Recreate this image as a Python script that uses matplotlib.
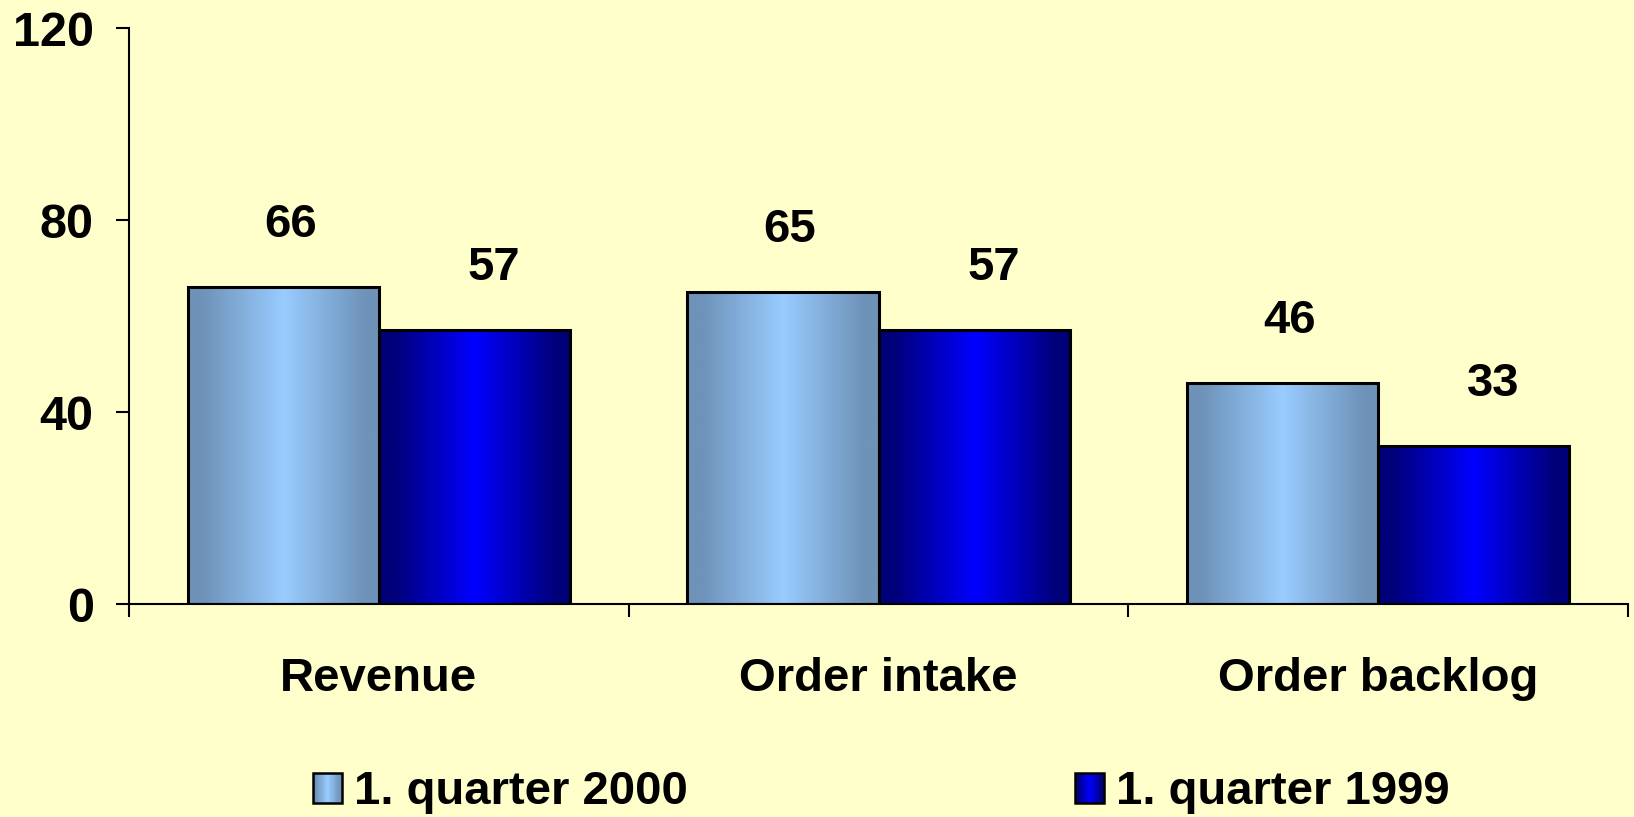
import numpy as np
import matplotlib
matplotlib.use("Agg")
import matplotlib.pyplot as plt
import matplotlib.patches as mpatches
from matplotlib.legend_handler import HandlerBase
from matplotlib.colors import to_rgb

categories = ["Revenue", "Order intake", "Order backlog"]
series_names = ["1. quarter 2000", "1. quarter 1999"]
q2000 = [66, 65, 46]
q1999 = [57, 57, 33]
yticks = [0, 40, 80, 120]

BG = "#FFFFCC"
light_edge, light_center = "#6E92B8", "#99CCFF"
dark_edge, dark_center = "#000078", "#0000FF"
FONT = "Liberation Sans"


def gradient_row(edge, center, n=256):
    u = (np.arange(n) + 0.5) / n
    t = np.clip(np.abs(2 * u - 1) / 0.85, 0, 1)
    e = np.array(to_rgb(edge))
    c = np.array(to_rgb(center))
    cols = c[None, :] * (1 - t[:, None]) + e[None, :] * t[:, None]
    return cols[None, :, :]


class GradientHandler(HandlerBase):
    def __init__(self, edge, center):
        super().__init__()
        self.edge = edge
        self.center = center

    def create_artists(self, legend, orig_handle, xdescent, ydescent,
                       width, height, fontsize, trans):
        n = 24
        cols = gradient_row(self.edge, self.center, n)[0]
        arts = []
        for i in range(n):
            r = mpatches.Rectangle((-xdescent + i * width / n, -ydescent),
                                   width / n * 1.05, height,
                                   facecolor=cols[i], edgecolor="none",
                                   transform=trans)
            arts.append(r)
        border = mpatches.Rectangle((-xdescent, -ydescent), width, height,
                                    facecolor="none", edgecolor="black",
                                    lw=1.8, transform=trans)
        arts.append(border)
        return arts


fig = plt.figure(figsize=(16.34, 8.17), dpi=100, facecolor=BG)
ax = fig.add_axes([0.079, 0.2607, 0.9173, 0.705])
ax.set_facecolor(BG)

x = np.arange(len(categories))
w = 0.3825
series = [(q2000, light_edge, light_center, -w / 2, 5),
          (q1999, dark_edge, dark_center, w / 2, 14)]

for vals, ce, cc, off, lab_dx in series:
    bars = ax.bar(x + off, vals, width=w, facecolor="none",
                  edgecolor="black", linewidth=2.2, zorder=3)
    grad = gradient_row(ce, cc)
    for b, v in zip(bars, vals):
        x0 = b.get_x()
        ax.imshow(grad, extent=[x0, x0 + b.get_width(), 0, b.get_height()],
                  aspect="auto", zorder=2, interpolation="bilinear")
        ax.annotate(f"{v}", xy=(x0 + b.get_width() / 2, v),
                    xytext=(lab_dx, 36), textcoords="offset points",
                    ha="center", va="baseline", fontsize=34,
                    fontweight="bold", family=FONT, color="black")

ax.set_xlim(-0.5, len(categories) - 0.5)
ax.set_ylim(0, 120)
ax.set_yticks(yticks)
ax.set_yticklabels([str(t) for t in yticks], fontsize=35,
                   fontweight="bold", family=FONT)
ax.set_xticks(x)
ax.set_xticklabels(categories, fontsize=34, fontweight="bold", family=FONT)
ax.set_xticks(np.arange(-0.5, len(categories), 1.0), minor=True)
ax.tick_params(axis="x", which="major", length=0, pad=38)
ax.tick_params(axis="x", which="minor", length=9.5, width=1.5,
               direction="out", color="black")
ax.tick_params(axis="y", length=9.5, width=1.5, direction="out", pad=16)

for s in ["top", "right"]:
    ax.spines[s].set_visible(False)
for s in ["left", "bottom"]:
    ax.spines[s].set_linewidth(1.5)
    ax.spines[s].set_color("black")

handles = [mpatches.Patch(), mpatches.Patch()]
handlers = [GradientHandler(light_edge, light_center),
            GradientHandler(dark_edge, dark_center)]
anchors = [0.1916, 0.658]
for h, hd, name, ax_x in zip(handles, handlers, series_names, anchors):
    fig.legend([h], [name], handler_map={h: hd}, loc="center left",
               bbox_to_anchor=(ax_x, 0.03), frameon=False, borderpad=0,
               borderaxespad=0, handlelength=0.62, handleheight=0.62,
               handletextpad=0.25,
               prop={"family": FONT, "weight": "bold", "size": 34})

fig.savefig("out.png", dpi=100, facecolor=BG)
